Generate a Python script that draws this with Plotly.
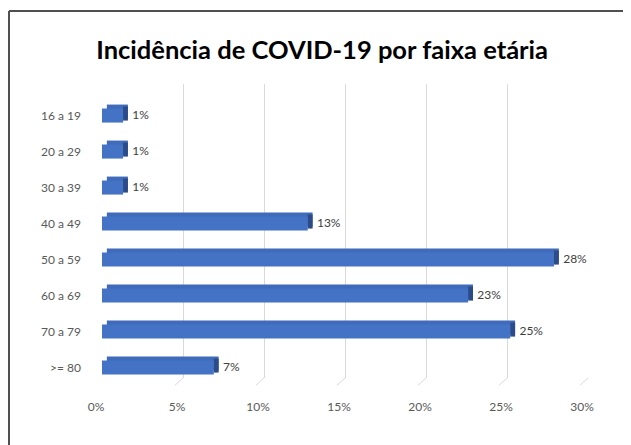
import plotly.graph_objects as go

categories = ["16 a 19", "20 a 29", "30 a 39", "40 a 49", "50 a 59", "60 a 69", "70 a 79", ">= 80"]
values = [0.013, 0.013, 0.013, 0.127, 0.279, 0.226, 0.252, 0.069]
tick_vals = [0, 0.05, 0.10, 0.15, 0.20, 0.25, 0.30]
tick_text = ["0%", "5%", "10%", "15%", "20%", "25%", "30%"]

FRONT = "#4472C4"
TOP = "#3F6BBA"
SIDE = "#2B4C89"
depth_x = 0.003
depth_y = 0.11
bw = 0.39
FONT = "Lato, Open Sans, sans-serif"

# page body has an 8px default margin, so the figure is 8px smaller
W, H = 623, 437

fig = go.Figure()
# top face
fig.add_trace(go.Bar(
    y=categories, x=values, base=[depth_x] * len(values), orientation="h",
    width=bw, offset=-bw / 2 - depth_y, marker=dict(color=TOP, line=dict(width=0)),
    hoverinfo="skip", showlegend=False))
# right side face
fig.add_trace(go.Bar(
    y=categories, x=[depth_x] * len(values), base=values, orientation="h",
    width=bw, offset=-bw / 2 - depth_y / 2, marker=dict(color=SIDE, line=dict(width=0)),
    hoverinfo="skip", showlegend=False))
# front face
fig.add_trace(go.Bar(
    y=categories, x=values, orientation="h",
    width=bw, offset=-bw / 2, marker=dict(color=FRONT, line=dict(width=0)),
    showlegend=False))
# data labels
fig.add_trace(go.Scatter(
    y=categories, x=values, mode="text", texttemplate="   %{x:.0%}",
    textposition="middle right", textfont=dict(family=FONT, size=12, color="#404040"),
    hoverinfo="skip", showlegend=False, cliponaxis=False))

L, R, T, B = 94, 43, 76, 67
PW, PH = W - L - R, H - T - B

shapes = []
for t in tick_vals:
    shapes.append(dict(type="line", xref="x", yref="paper", x0=t, y0=0, x1=t - 0.005, y1=-0.025,
                       line=dict(color="#D9D9D9", width=1)))
# chart frame (top & left edges)
fx = (1 - L) / PW
fy = (T - 3) / PH + 1
shapes.append(dict(type="line", xref="paper", yref="paper", x0=fx, x1=1.2, y0=fy, y1=fy,
                   line=dict(color="#505050", width=2)))
shapes.append(dict(type="line", xref="paper", yref="paper", x0=fx, x1=fx, y0=fy, y1=-0.4,
                   line=dict(color="#505050", width=2)))

fig.update_layout(
    width=W, height=H,
    margin=dict(l=L, r=R, t=T, b=B, autoexpand=False),
    paper_bgcolor="white", plot_bgcolor="white",
    barmode="overlay",
    title=dict(text="<b>Incidência de COVID-19 por faixa etária</b>", x=0.453, xanchor="center",
               xref="paper", y=1 - 42 / H, yref="container", yanchor="middle",
               font=dict(family=FONT, size=25.5, color="#000000")),
    xaxis=dict(range=[0, 0.30], tickvals=tick_vals, ticktext=tick_text, showgrid=True,
               gridcolor="#D9D9D9", gridwidth=1, zeroline=False, showline=False, automargin=False,
               tickfont=dict(family=FONT, size=12, color="#595959"),
               ticklabelstandoff=20, ticklabelshift=-6),
    yaxis=dict(categoryorder="array", categoryarray=categories, range=[7.29, -0.876],
               showgrid=False, zeroline=False, showline=False, automargin=False,
               tickfont=dict(family=FONT, size=12, color="#595959"),
               ticklabelstandoff=20),
    shapes=shapes,
)
fig.write_html("out.html")
